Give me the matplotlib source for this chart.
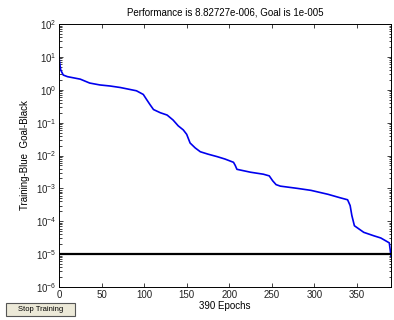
import matplotlib
matplotlib.use("Agg")
import matplotlib.pyplot as plt
from matplotlib.patches import Rectangle
from matplotlib.ticker import LogLocator, MultipleLocator, NullFormatter

plt.rcParams["font.family"] = ["Liberation Sans", "DejaVu Sans"]
plt.rcParams["mathtext.fontset"] = "custom"
plt.rcParams["mathtext.rm"] = "Liberation Sans"

# training record
epochs = [0, 1, 2, 5, 10, 25, 36, 48, 60, 72, 85, 91, 99, 103, 107, 111,
          119, 127, 134, 140, 146, 150, 154, 160, 166, 175, 186, 195, 201,
          205, 207, 209, 225, 240, 247, 251, 255, 260, 280, 296, 316, 330,
          339, 342, 344, 347, 358, 370, 378, 388, 390]
performance = [10, 6, 4, 2.8, 2.5, 2.1, 1.6, 1.4, 1.3, 1.17, 1.0, 0.93, 0.72,
               0.5, 0.35, 0.25, 0.2, 0.17, 0.12, 0.08, 0.06, 0.044, 0.024,
               0.017, 0.013, 0.011, 0.0092, 0.0078, 0.0068, 0.0062, 0.005,
               0.0038, 0.0031, 0.0027, 0.0024, 0.0017, 0.0013, 0.00117,
               0.001, 0.00087, 0.00066, 0.00052, 0.00045, 0.0003, 0.00015,
               7.3e-5, 4.6e-5, 3.6e-5, 3.1e-5, 2.2e-5, 8.82727e-6]
goal = 1e-5
n_epochs = 390

fig = plt.figure(figsize=(3.94, 3.2), dpi=100)
ax = fig.add_axes([59 / 394, 33 / 320, 332 / 394, 263 / 320])

ax.semilogy(epochs, performance, color="#0000ee", linewidth=1.2)
ax.axhline(goal, color="black", linewidth=1.6)

ax.set_xlim(0, n_epochs)
ax.set_ylim(1e-6, 1e2)
ax.xaxis.set_major_locator(MultipleLocator(50))
ax.yaxis.set_major_locator(LogLocator(base=10, numticks=20))
ax.yaxis.set_minor_locator(LogLocator(base=10, subs=range(2, 10), numticks=20))
ax.yaxis.set_minor_formatter(NullFormatter())

ax.tick_params(which="both", direction="in", top=True, right=True,
               labelsize=7, colors="#222222", width=0.6)
ax.tick_params(which="major", length=3, pad=2)
ax.tick_params(which="minor", length=1.8)
for spine in ax.spines.values():
    spine.set_linewidth(0.7)

ax.set_title("Performance is 8.82727e-006, Goal is 1e-005", fontsize=7,
             pad=6)
ax.set_xlabel(f"{n_epochs} Epochs", fontsize=7, labelpad=1)
ax.set_ylabel("Training-Blue  Goal-Black", fontsize=7, labelpad=4)

# the "Stop Training" button of the nntool window
fig.patches.append(Rectangle((6 / 394, 4 / 320), 69 / 394, 13 / 320,
                             transform=fig.transFigure, facecolor="#ece9d8",
                             edgecolor="#555555", linewidth=0.8))
fig.text(40.5 / 394, 10.5 / 320, "Stop Training", fontsize=5.5,
         ha="center", va="center")

fig.savefig("out.png", dpi=100)
